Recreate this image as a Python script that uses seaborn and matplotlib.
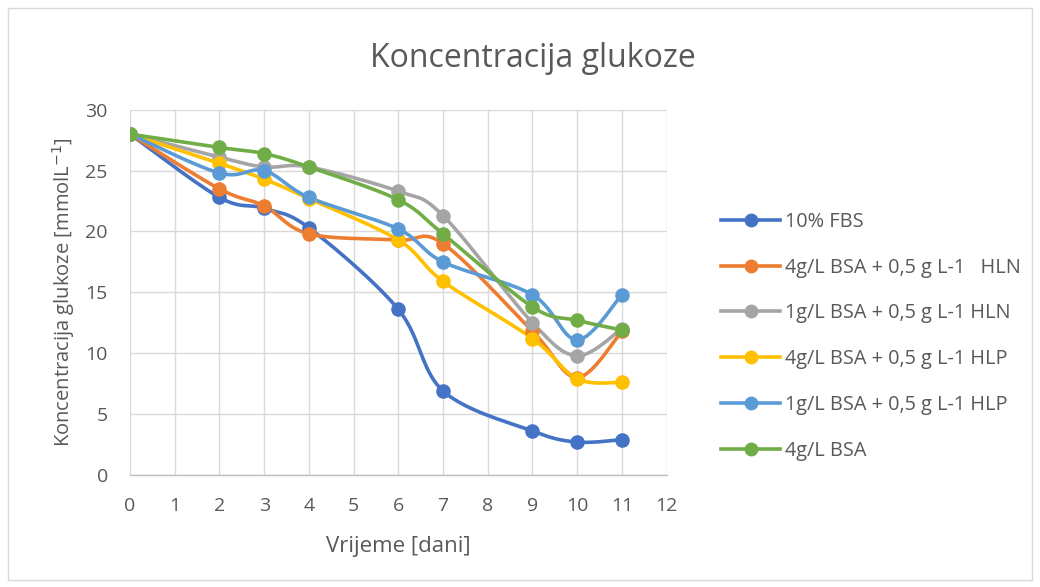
import numpy as np
import pandas as pd
import matplotlib
matplotlib.use("Agg")
import matplotlib.pyplot as plt
from matplotlib.lines import Line2D
from matplotlib.patches import Rectangle
import seaborn as sns

days = [0, 2, 3, 4, 6, 7, 9, 10, 11]
series_names = [
    "10% FBS",
    "4g/L BSA + 0,5 g L-1   HLN",
    "1g/L BSA + 0,5 g L-1 HLN",
    "4g/L BSA + 0,5 g L-1 HLP",
    "1g/L BSA + 0,5 g L-1 HLP",
    "4g/L BSA",
]
fbs = [28.0, 22.8, 21.9, 20.3, 13.6, 6.9, 3.6, 2.7, 2.9]
bsa4_hln = [28.0, 23.5, 22.1, 19.8, 19.3, 19.0, 11.8, 8.0, 11.8]
bsa1_hln = [28.0, 26.1, 25.3, 25.3, 23.3, 21.3, 12.5, 9.8, 12.0]
bsa4_hlp = [28.0, 25.6, 24.3, 22.7, 19.3, 15.9, 11.2, 7.9, 7.6]
bsa1_hlp = [28.0, 24.8, 25.0, 22.8, 20.2, 17.5, 14.8, 11.1, 14.8]
bsa4 = [28.0, 26.9, 26.4, 25.3, 22.6, 19.8, 13.8, 12.7, 11.9]
colors = ["#4472C4", "#ED7D31", "#A5A5A5", "#FFC000", "#5B9BD5", "#70AD47"]
all_values = [fbs, bsa4_hln, bsa1_hln, bsa4_hlp, bsa1_hlp, bsa4]


def smooth(x, y, n=30):
    # Catmull-Rom style smoothing (like Excel's smoothed lines)
    x = np.asarray(x, float)
    y = np.asarray(y, float)
    xs, ys = [], []
    for i in range(len(x) - 1):
        p0 = np.array([x[i - 1], y[i - 1]]) if i > 0 else np.array([x[i], y[i]])
        p1 = np.array([x[i], y[i]])
        p2 = np.array([x[i + 1], y[i + 1]])
        p3 = np.array([x[i + 2], y[i + 2]]) if i + 2 < len(x) else p2
        c1 = p1 + (p2 - p0) / 6.0
        c2 = p2 - (p3 - p1) / 6.0
        t = np.linspace(0, 1, n)[:, None]
        pts = ((1 - t) ** 3) * p1 + 3 * ((1 - t) ** 2) * t * c1 + 3 * (1 - t) * t ** 2 * c2 + t ** 3 * p2
        xs.extend(pts[:, 0])
        ys.extend(pts[:, 1])
    return xs, ys


font = "Open Sans"
plt.rcParams["font.family"] = [font, "DejaVu Sans"]
text_color = "#595959"

fig = plt.figure(figsize=(10.4, 5.87), dpi=100)
ax = fig.add_axes([0.125, 0.191, 0.516, 0.622])

fig.patches.append(Rectangle((0.008, 0.012), 0.984, 0.975, transform=fig.transFigure,
                             fill=False, edgecolor="#D9D9D9", linewidth=1.0))

handles = []
for name, vals, col in zip(series_names, all_values, colors):
    sx, sy = smooth(days, vals)
    dfl = pd.DataFrame({"x": sx, "y": sy})
    sns.lineplot(data=dfl, x="x", y="y", ax=ax, color=col, linewidth=2.6,
                 sort=False, estimator=None, zorder=3)
    dfp = pd.DataFrame({"x": days, "y": vals})
    sns.scatterplot(data=dfp, x="x", y="y", ax=ax, color=col, s=110,
                    edgecolor=col, linewidth=0, zorder=4)
    handles.append(Line2D([0], [0], color=col, linewidth=2.6, marker="o",
                          markersize=10, markeredgewidth=0))

ax.set_xlim(0, 12)
ax.set_ylim(0, 30)
ax.set_xticks(range(0, 13))
ax.set_yticks(range(0, 31, 5))
ax.grid(True, color="#D9D9D9", linewidth=1.0, zorder=0)
ax.set_axisbelow(True)
for s in ["top", "right", "left"]:
    ax.spines[s].set_visible(False)
ax.spines["bottom"].set_color("#BFBFBF")
ax.spines["bottom"].set_linewidth(1.0)
ax.tick_params(axis="x", length=0, labelsize=14, colors=text_color, pad=16)
ax.tick_params(axis="y", length=0, labelsize=14, colors=text_color, pad=16)
ax.set_xlabel("Vrijeme [dani]", fontsize=16, color=text_color, labelpad=15)
ax.set_ylabel("Koncentracija glukoze [mmolL$^{-1}$]", fontsize=14.5, color=text_color, labelpad=6)

fig.text(0.512, 0.90, "Koncentracija glukoze", ha="center", va="center",
         fontsize=23, color=text_color)

leg = fig.legend(handles, series_names, loc="center left", bbox_to_anchor=(0.676, 0.427),
                 frameon=False, fontsize=14.3, labelspacing=1.3, handlelength=3.0,
                 handletextpad=0.25, labelcolor=text_color)

fig.savefig("out.png", dpi=100)
